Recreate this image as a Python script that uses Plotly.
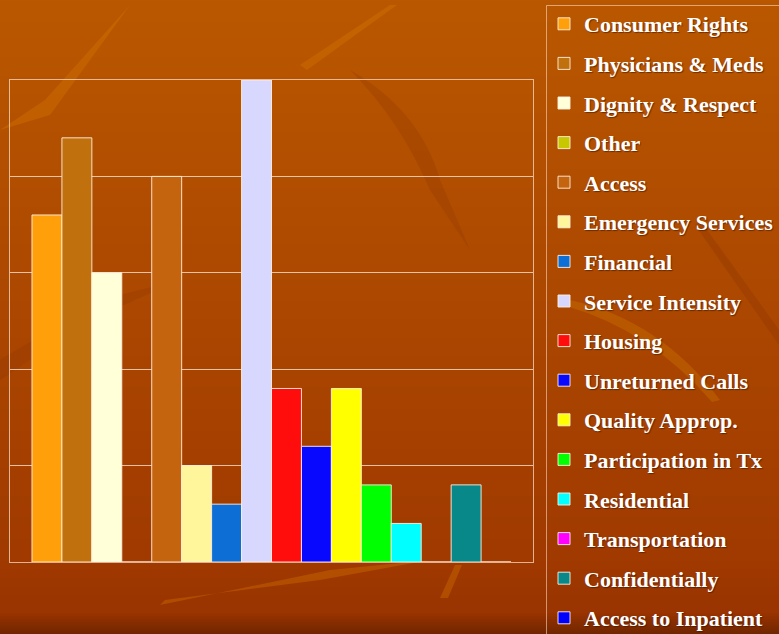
import zlib, struct, base64
import plotly.graph_objects as go

# ---- data ----
categories = ["Consumer Rights", "Physicians & Meds", "Dignity & Respect", "Other",
              "Access", "Emergency Services", "Financial", "Service Intensity",
              "Housing", "Unreturned Calls", "Quality Approp.", "Participation in Tx",
              "Residential", "Transportation", "Confidentially", "Access to Inpatient"]
values = [18, 22, 15, 0, 20, 5, 3, 25, 9, 6, 9, 4, 2, 0, 4, 0]
colors = ["#FFA00A", "#C0700C", "#FFFFD8", "#C8C800", "#C4640E", "#FFF59A",
          "#0D6ED6", "#D8D8FF", "#FF0D0D", "#0808FF", "#FFFF00", "#00FF00",
          "#00FFFF", "#FF00FF", "#088888", "#0000FF"]
y_ticks = [0, 5, 10, 15, 20, 25]

W, H = 779, 660   # figure taller than the 634px window; the page clips the rest

# ---- background gradient image (data URI PNG) ----
def make_png(rows):
    h = len(rows); w = len(rows[0])
    raw = b"".join(b"\x00" + bytes([c for px in row for c in px]) for row in rows)
    def chunk(t, d):
        c = struct.pack(">I", len(d)) + t + d
        return c + struct.pack(">I", zlib.crc32(t + d) & 0xffffffff)
    png = b"\x89PNG\r\n\x1a\n" + chunk(b"IHDR", struct.pack(">IIBBBBB", w, h, 8, 2, 0, 0, 0)) \
        + chunk(b"IDAT", zlib.compress(raw)) + chunk(b"IEND", b"")
    return "data:image/png;base64," + base64.b64encode(png).decode()

stops = [(0, (186, 88, 0)), (300, (172, 72, 0)), (560, (160, 58, 0)),
         (612, (154, 52, 0)), (634, (112, 38, 0)), (H, (104, 34, 0))]
rows = []
for y in range(H):
    for (y0, c0), (y1, c1) in zip(stops, stops[1:]):
        if y0 <= y <= y1:
            t = (y - y0) / (y1 - y0)
            rows.append([tuple(int(a + (b - a) * t) for a, b in zip(c0, c1))])
            break
bg_src = make_png(rows)

fig = go.Figure()
for name, v, col in zip(categories, values, colors):
    fig.add_trace(go.Bar(
        x=[""], y=[v], name=name, legendgroup=name,
        marker=dict(color=col, line=dict(color="rgba(255,240,225,0.9)", width=1)),
    ))

def px_x(x): return x / W
def px_y(y): return 1 - y / H

shapes = []
streaks = [
    ("M 0 130 L 45 100 L 130 5 L 50 115 Z", "rgba(215,120,0,0.35)"),
    ("M 300 65 L 390 5 L 397 5 L 307 70 Z", "rgba(215,120,0,0.35)"),
    ("M 350 70 Q 420 110 440 180 L 470 250 L 430 190 Q 400 120 350 70 Z", "rgba(140,50,0,0.25)"),
    ("M 160 605 L 330 570 L 430 560 L 320 580 L 165 600 Z", "rgba(215,120,0,0.35)"),
    ("M 440 598 L 455 565 L 462 565 L 448 598 Z", "rgba(215,120,0,0.35)"),
    ("M 570 300 Q 660 320 720 400 L 712 402 Q 650 330 566 306 Z", "rgba(215,130,0,0.3)"),
    ("M 700 220 L 779 330 L 779 345 L 695 225 Z", "rgba(140,50,0,0.3)"),
    ("M 0 360 L 100 300 L 180 280 L 90 320 L 0 380 Z", "rgba(140,50,0,0.25)"),
]
for p, c in streaks:
    toks = p.split()
    out = []
    i = 0
    while i < len(toks):
        t = toks[i]
        if t.isalpha():
            out.append(t); i += 1
        else:
            x = float(toks[i]); y = float(toks[i + 1])
            out.append(f"{x / W:.5f} {1 - y / H:.5f}"); i += 2
    shapes.append(dict(type="path", path=" ".join(out), xref="paper", yref="paper",
                       line=dict(width=0), fillcolor=c, layer="below"))

# legend border (left and top edges, box runs off the canvas)
brd = "rgba(255,230,210,0.55)"
shapes.append(dict(type="line", xref="paper", yref="paper", x0=px_x(546.5), x1=px_x(546.5),
                   y0=px_y(5.5), y1=0, line=dict(color=brd, width=1)))
shapes.append(dict(type="line", xref="paper", yref="paper", x0=px_x(546.5), x1=1,
                   y0=px_y(5.5), y1=px_y(5.5), line=dict(color=brd, width=1)))

fig.update_layout(
    width=W, height=H,
    margin=dict(l=0, r=0, t=0, b=0),
    paper_bgcolor="#B05000", plot_bgcolor="rgba(0,0,0,0)",
    barmode="group", bargap=0.084, bargroupgap=0,
    showlegend=True,
    legend=dict(x=px_x(544), xanchor="left", y=px_y(3), yanchor="top",
                bgcolor="rgba(0,0,0,0)", borderwidth=0,
                font=dict(family="Liberation Serif, Times New Roman, serif", size=22,
                          color="white", weight="bold",
                          shadow="1px 1px 1px rgba(60,20,0,0.6)"),
                tracegroupgap=8, itemclick=False),
    images=[dict(source=bg_src, xref="paper", yref="paper", x=0, y=1, sizex=1, sizey=1,
                 sizing="stretch", layer="below", xanchor="left", yanchor="top")],
    shapes=shapes,
    xaxis=dict(domain=[px_x(10), px_x(533)], showticklabels=False, ticks="",
               showgrid=False, zeroline=False, showline=True, mirror=True,
               linecolor="rgba(255,230,210,0.7)", linewidth=1),
    yaxis=dict(domain=[px_y(562), px_y(80)], range=[0, 25], tickvals=y_ticks,
               showticklabels=False, ticks="", showgrid=True,
               gridcolor="rgba(255,235,220,0.75)", gridwidth=1, zeroline=False,
               showline=True, mirror=True, linecolor="rgba(255,230,210,0.7)", linewidth=1),
)

fig.write_html("out.html", config={"displayModeBar": False},
               post_script="document.body.style.margin='0';document.body.style.overflow='hidden';")
